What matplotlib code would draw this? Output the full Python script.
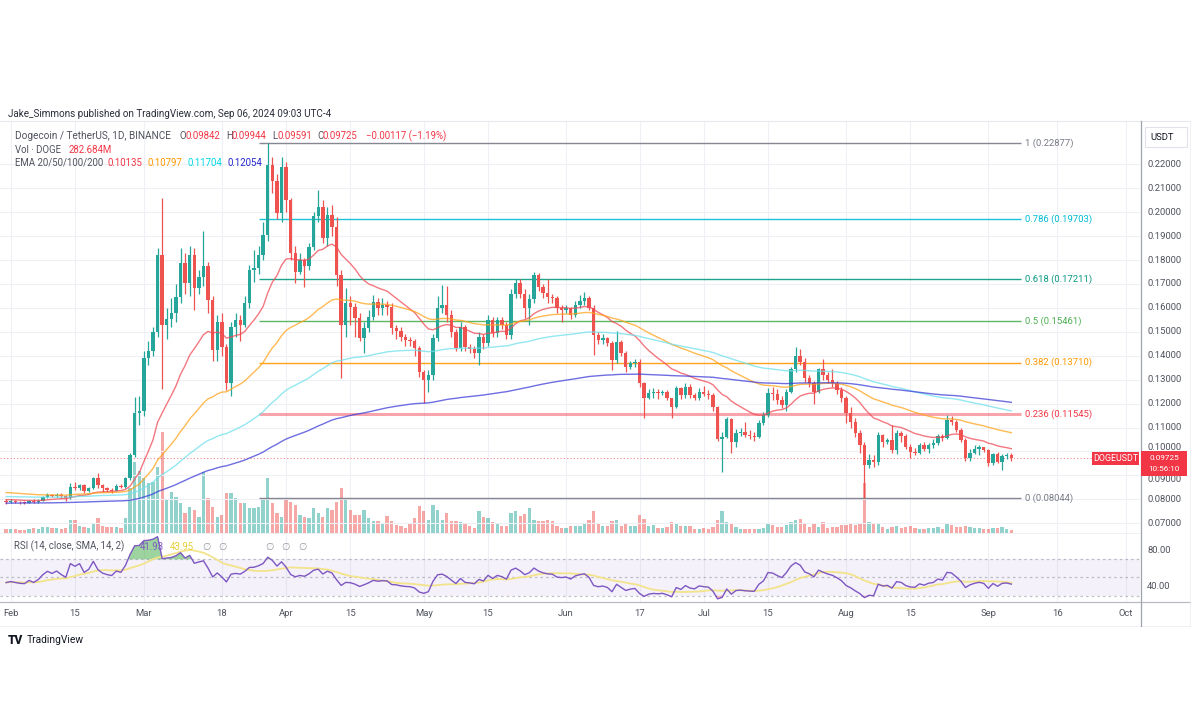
import matplotlib
matplotlib.use("Agg")
import matplotlib.pyplot as plt
from matplotlib.patches import Rectangle
from matplotlib.lines import Line2D
from matplotlib.transforms import blended_transform_factory as blend, offset_copy
import numpy as np
import pandas as pd

plt.rcParams['font.family'] = ['Roboto', 'DejaVu Sans']

# ---------------- data (daily DOGE/USDT) ----------------
start_date = "2024-01-31"
first_open = 0.0795

close_jan = [0.0790]
high_jan = [0.0800]
low_jan = [0.0782]
vol_jan = [0.4]

close_feb = [0.0793, 0.0790, 0.0787, 0.0786, 0.0794, 0.0788, 0.0795, 0.0808, 0.0818, 0.0813,
             0.0820, 0.0812, 0.0805, 0.0853, 0.0846, 0.0858, 0.0833, 0.0846, 0.0889, 0.0860,
             0.0846, 0.0840, 0.0836, 0.0857, 0.0852, 0.0889, 0.0985, 0.1160, 0.1170]
high_feb = [0.0800, 0.0798, 0.0795, 0.0793, 0.0799, 0.0800, 0.0800, 0.0815, 0.0828, 0.0822,
            0.0826, 0.0825, 0.0818, 0.0870, 0.0874, 0.0866, 0.0862, 0.0852, 0.0895, 0.0908,
            0.0866, 0.0852, 0.0846, 0.0862, 0.0864, 0.0895, 0.0995, 0.1227, 0.1230]
low_feb = [0.0785, 0.0784, 0.0782, 0.0780, 0.0783, 0.0784, 0.0785, 0.0792, 0.0805, 0.0808,
           0.0810, 0.0805, 0.0795, 0.0803, 0.0838, 0.0838, 0.0825, 0.0830, 0.0842, 0.0848,
           0.0830, 0.0832, 0.0828, 0.0833, 0.0846, 0.0848, 0.0882, 0.0975, 0.1110]
vol_feb = [0.4, 0.4, 0.3, 0.3, 0.4, 0.5, 0.4, 0.6, 0.6, 0.5,
           0.5, 0.4, 0.5, 1.3, 1.3, 0.7, 0.6, 0.5, 1.0, 1.5,
           0.7, 0.6, 0.6, 0.6, 0.5, 1.5, 4.5, 7.1, 6.2]

close_mar = [0.1390, 0.1420, 0.1500, 0.1820, 0.1530, 0.1555, 0.1578, 0.1647, 0.1787, 0.1703,
             0.1821, 0.1682, 0.1730, 0.1773, 0.1633, 0.1424, 0.1543, 0.1438, 0.1285, 0.1522,
             0.1550, 0.1529, 0.1619, 0.1759, 0.1766, 0.1821, 0.1905, 0.2198, 0.2130, 0.1996,
             0.2190]
high_mar = [0.1420, 0.1460, 0.1520, 0.1850, 0.2060, 0.1600, 0.1640, 0.1700, 0.1850, 0.1830,
            0.1860, 0.1850, 0.1760, 0.1920, 0.1790, 0.1650, 0.1570, 0.1580, 0.1450, 0.1540,
            0.1580, 0.1570, 0.1650, 0.1780, 0.1840, 0.1860, 0.1960, 0.2288, 0.2230, 0.2160,
            0.2230]
low_mar = [0.1150, 0.1360, 0.1400, 0.1480, 0.1260, 0.1470, 0.1520, 0.1540, 0.1620, 0.1660,
           0.1650, 0.1590, 0.1660, 0.1690, 0.1580, 0.1380, 0.1380, 0.1400, 0.1257, 0.1230,
           0.1480, 0.1460, 0.1520, 0.1600, 0.1710, 0.1740, 0.1800, 0.1880, 0.2080, 0.1970,
           0.1960]
vol_mar = [5.5, 5.0, 5.1, 6.6, 10.1, 3.3, 4.1, 3.6, 3.0, 2.0,
           2.6, 2.3, 1.6, 6.1, 3.5, 2.6, 1.6, 1.8, 4.0, 4.0,
           3.5, 3.0, 3.0, 2.5, 2.5, 2.6, 3.5, 5.5, 3.0, 2.0,
           1.6]

close_apr = [0.2051, 0.1828, 0.1752, 0.1800, 0.1773, 0.1856, 0.1982, 0.2023, 0.1891, 0.1989,
             0.1940, 0.1738, 0.1529, 0.1619, 0.1605, 0.1556, 0.1473, 0.1515, 0.1563, 0.1623,
             0.1598, 0.1612, 0.1605, 0.1514, 0.1505, 0.1480, 0.1466, 0.1460, 0.1431, 0.1334]
high_apr = [0.2210, 0.2060, 0.1860, 0.1830, 0.1810, 0.1870, 0.2000, 0.2093, 0.2050, 0.2020,
            0.2030, 0.1980, 0.1760, 0.1682, 0.1650, 0.1620, 0.1580, 0.1540, 0.1590, 0.1654,
            0.1640, 0.1640, 0.1630, 0.1620, 0.1530, 0.1520, 0.1490, 0.1480, 0.1470, 0.1440]
low_apr = [0.2000, 0.1800, 0.1703, 0.1740, 0.1689, 0.1760, 0.1840, 0.1960, 0.1870, 0.1860,
           0.1900, 0.1690, 0.1306, 0.1480, 0.1530, 0.1480, 0.1460, 0.1410, 0.1500, 0.1550,
           0.1570, 0.1570, 0.1570, 0.1490, 0.1470, 0.1460, 0.1440, 0.1440, 0.1400, 0.1310]
vol_apr = [3.3, 3.1, 2.8, 1.8, 1.6, 1.5, 2.5, 2.0, 1.6, 2.5,
           2.3, 3.1, 4.5, 3.5, 2.3, 1.8, 1.8, 2.3, 1.5, 1.2,
           1.2, 1.0, 1.7, 1.2, 0.8, 0.7, 0.5, 1.0, 1.5, 2.7]

close_may = [0.1299, 0.1320, 0.1473, 0.1598, 0.1612, 0.1570, 0.1501, 0.1431, 0.1521, 0.1438,
             0.1428, 0.1410, 0.1480, 0.1452, 0.1549, 0.1494, 0.1549, 0.1528, 0.1487, 0.1657,
             0.1703, 0.1660, 0.1598, 0.1637, 0.1737, 0.1689, 0.1661, 0.1645, 0.1640, 0.1598,
             0.1590]
high_may = [0.1340, 0.1340, 0.1490, 0.1650, 0.1696, 0.1690, 0.1590, 0.1510, 0.1540, 0.1530,
            0.1450, 0.1440, 0.1500, 0.1490, 0.1570, 0.1560, 0.1560, 0.1560, 0.1540, 0.1680,
            0.1720, 0.1720, 0.1680, 0.1660, 0.1750, 0.1747, 0.1700, 0.1720, 0.1660, 0.1650,
            0.1610]
low_may = [0.1201, 0.1250, 0.1300, 0.1460, 0.1580, 0.1540, 0.1480, 0.1420, 0.1420, 0.1420,
           0.1410, 0.1390, 0.1361, 0.1430, 0.1440, 0.1480, 0.1480, 0.1510, 0.1470, 0.1470,
           0.1640, 0.1640, 0.1556, 0.1530, 0.1620, 0.1670, 0.1640, 0.1620, 0.1620, 0.1580,
           0.1543]
vol_may = [2.2, 1.3, 2.8, 2.3, 1.3, 2.0, 1.2, 1.2, 1.1, 1.0,
           0.7, 0.5, 2.2, 1.6, 1.5, 1.1, 1.0, 0.7, 0.7, 2.0,
           2.2, 1.7, 1.9, 2.5, 1.3, 1.2, 1.2, 1.3, 1.2, 0.7,
           0.5]

close_jun = [0.1598, 0.1570, 0.1612, 0.1629, 0.1640, 0.1598, 0.1487, 0.1466, 0.1473, 0.1452,
             0.1382, 0.1459, 0.1410, 0.1354, 0.1368, 0.1375, 0.1285, 0.1222, 0.1243, 0.1250,
             0.1243, 0.1247, 0.1222, 0.1187, 0.1264, 0.1235, 0.1270, 0.1236, 0.1225, 0.1250]
high_jun = [0.1610, 0.1605, 0.1630, 0.1654, 0.1665, 0.1650, 0.1610, 0.1500, 0.1490, 0.1480,
            0.1460, 0.1503, 0.1465, 0.1420, 0.1380, 0.1385, 0.1385, 0.1290, 0.1260, 0.1265,
            0.1260, 0.1255, 0.1255, 0.1225, 0.1275, 0.1270, 0.1285, 0.1280, 0.1245, 0.1265]
low_jun = [0.1580, 0.1555, 0.1560, 0.1600, 0.1610, 0.1590, 0.1403, 0.1450, 0.1450, 0.1440,
           0.1341, 0.1370, 0.1400, 0.1333, 0.1345, 0.1355, 0.1270, 0.1139, 0.1220, 0.1225,
           0.1220, 0.1235, 0.1215, 0.1139, 0.1180, 0.1220, 0.1225, 0.1225, 0.1215, 0.1215]
vol_jun = [0.5, 0.7, 0.7, 0.7, 1.0, 1.3, 2.2, 1.0, 0.7, 0.7,
           1.2, 1.3, 0.7, 1.0, 0.7, 0.7, 1.8, 1.4, 0.7, 0.8,
           0.5, 0.5, 0.6, 1.1, 1.0, 0.7, 0.7, 0.7, 0.4, 0.4]

close_jul = [0.1240, 0.1235, 0.1184, 0.1051, 0.1062, 0.1134, 0.1041, 0.1076, 0.1080, 0.1070,
             0.1065, 0.1062, 0.1120, 0.1152, 0.1246, 0.1240, 0.1215, 0.1194, 0.1250, 0.1343,
             0.1399, 0.1375, 0.1306, 0.1285, 0.1250, 0.1343, 0.1319, 0.1299, 0.1285, 0.1257,
             0.1222]
high_jul = [0.1275, 0.1255, 0.1245, 0.1190, 0.1080, 0.1145, 0.1140, 0.1095, 0.1100, 0.1125,
            0.1090, 0.1080, 0.1130, 0.1165, 0.1265, 0.1270, 0.1260, 0.1230, 0.1260, 0.1355,
            0.1435, 0.1430, 0.1390, 0.1320, 0.1295, 0.1350, 0.1385, 0.1330, 0.1343, 0.1295,
            0.1270]
low_jul = [0.1230, 0.1220, 0.1170, 0.1045, 0.0916, 0.1055, 0.0995, 0.1020, 0.1065, 0.1060,
           0.1050, 0.1045, 0.1055, 0.1110, 0.1145, 0.1215, 0.1200, 0.1180, 0.1170, 0.1245,
           0.1330, 0.1360, 0.1290, 0.1270, 0.1200, 0.1245, 0.1300, 0.1285, 0.1270, 0.1240,
           0.1205]
vol_jul = [0.5, 0.4, 0.6, 1.3, 2.2, 1.1, 1.0, 0.6, 0.4, 0.4,
           0.4, 0.4, 0.4, 0.5, 0.9, 0.8, 0.6, 0.6, 0.8, 1.1,
           1.3, 1.4, 1.0, 0.6, 1.0, 0.6, 1.1, 0.5, 0.6, 0.6,
           0.8]

close_aug = [0.1159, 0.1125, 0.1076, 0.1027, 0.0943, 0.0964, 0.0955, 0.1069, 0.1041, 0.1048,
             0.1006, 0.1076, 0.1065, 0.1020, 0.0999, 0.0995, 0.1027, 0.1010, 0.1028, 0.1034,
             0.1065, 0.1055, 0.1131, 0.1125, 0.1090, 0.1048, 0.0971, 0.0995, 0.1009, 0.1017,
             0.1006]
high_aug = [0.1230, 0.1185, 0.1140, 0.1090, 0.1040, 0.0990, 0.0985, 0.1080, 0.1075, 0.1055,
            0.1111, 0.1090, 0.1085, 0.1075, 0.1030, 0.1015, 0.1035, 0.1040, 0.1035, 0.1050,
            0.1075, 0.1075, 0.1152, 0.1150, 0.1130, 0.1100, 0.1055, 0.1010, 0.1025, 0.1025,
            0.1020]
low_aug = [0.1120, 0.1100, 0.1060, 0.0992, 0.08044, 0.0930, 0.0936, 0.0945, 0.1020, 0.1030,
           0.0995, 0.0990, 0.1040, 0.1010, 0.0971, 0.0985, 0.0990, 0.1000, 0.0995, 0.1015,
           0.1025, 0.1045, 0.1050, 0.1110, 0.1080, 0.1040, 0.0960, 0.0960, 0.0990, 0.0985,
           0.0998]
vol_aug = [0.8, 0.9, 0.8, 0.9, 5.0, 1.1, 1.0, 1.0, 0.6, 0.4,
           0.6, 0.7, 0.5, 0.6, 0.7, 0.5, 0.4, 0.4, 0.5, 0.5,
           0.6, 0.4, 1.0, 0.8, 0.6, 0.6, 0.7, 0.6, 0.5, 0.5,
           0.4]

close_sep = [0.0950, 0.0989, 0.0957, 0.0981, 0.09842, 0.09725]
high_sep = [0.1010, 0.0995, 0.0998, 0.0990, 0.0995, 0.09944]
low_sep = [0.0940, 0.0945, 0.0950, 0.0922, 0.0970, 0.09591]
vol_sep = [0.4, 0.5, 0.5, 0.6, 0.4, 0.282684]   # billions of DOGE

# indicator starting values (read at the left edge of the chart)
ema_periods = [20, 50, 100, 200]
ema_start = [0.0800, 0.0830, 0.0812, 0.0784]
ema_colors = ['#f04a55', '#ffa31a', '#6fe0ec', '#3d3dd8']
ema_last_text = ['0.10135', '0.10797', '0.11704', '0.12054']
rsi_start_gain, rsi_start_loss = 0.00055, 0.00065
rsi_last_text = ['41.93', '43.95']

# Fibonacci retracement
fib_labels = ['1', '0.786', '0.618', '0.5', '0.382', '0.236', '0']
fib_prices = [0.22877, 0.19703, 0.17211, 0.15461, 0.13710, 0.11545, 0.08044]
fib_colors = ['#787b86', '#00bcd4', '#089981', '#4caf50', '#ff9800', '#f23645', '#787b86']
fib_start, fib_end = '2024-03-26', '2024-09-08'

price_ticks = [0.07, 0.08, 0.09, 0.10, 0.11, 0.12, 0.13, 0.14, 0.15, 0.16, 0.17, 0.18, 0.19, 0.20, 0.21, 0.22]
tick_dates = ['2024-02-01', '2024-02-15', '2024-03-01', '2024-03-18', '2024-04-01', '2024-04-15',
              '2024-05-01', '2024-05-15', '2024-06-01', '2024-06-17', '2024-07-01', '2024-07-15',
              '2024-08-01', '2024-08-15', '2024-09-01', '2024-09-16', '2024-10-01']
tick_labels = ['Feb', '15', 'Mar', '18', 'Apr', '15', 'May', '15', 'Jun', '17', 'Jul', '15',
               'Aug', '15', 'Sep', '16', 'Oct']
last_price = 0.09725
countdown_text = '10:56:10'

# ---------------- assemble ----------------
close = close_jan + close_feb + close_mar + close_apr + close_may + close_jun + close_jul + close_aug + close_sep
high = high_jan + high_feb + high_mar + high_apr + high_may + high_jun + high_jul + high_aug + high_sep
low = low_jan + low_feb + low_mar + low_apr + low_may + low_jun + low_jul + low_aug + low_sep
vol = vol_jan + vol_feb + vol_mar + vol_apr + vol_may + vol_jun + vol_jul + vol_aug + vol_sep
assert len(close) == len(high) == len(low) == len(vol)

ref = pd.Timestamp('2024-02-01')
dates = pd.date_range(start_date, periods=len(close), freq='D')
t = np.array((dates - ref).days, dtype=float)
c = np.array(close)
o = np.array([first_open] + close[:-1])
hi = np.maximum(np.array(high), np.maximum(o, c))
lo = np.minimum(np.array(low), np.minimum(o, c))
v = np.array(vol)


def ema(vals, n, seed):
    a = 2.0 / (n + 1)
    out, e = [], seed
    for x in vals:
        e = a * x + (1 - a) * e
        out.append(e)
    return np.array(out)


def rsi_wilder(vals, prev, g0, l0, n=14):
    ag, al, p, out = g0, l0, prev, []
    for x in vals:
        ch = x - p
        ag = (ag * (n - 1) + max(ch, 0)) / n
        al = (al * (n - 1) + max(-ch, 0)) / n
        out.append(100 - 100 / (1 + ag / al) if al > 0 else 100.0)
        p = x
    return np.array(out)


rsi = rsi_wilder(close, first_open, rsi_start_gain, rsi_start_loss)
rsi_sma = pd.Series(rsi).rolling(14, min_periods=1).mean().values

# ---------------- layout (pixel geometry of the screenshot) ----------------
W, H = 1200, 728
X_T0, DX = 10.7, 4.59          # pixel of 1 Feb candle, pixels per day
PANE_R = 1140
MAIN_TOP, MAIN_BOT, RSI_BOT = 121, 533, 601.7
Y22, PPU = 164.3, 2393.0       # pixel of 0.22, pixels per price unit


def price_at(y):
    return 0.22 - (y - Y22) / PPU


t_left = (0 - X_T0) / DX
t_right = (PANE_R - X_T0) / DX

fig = plt.figure(figsize=(W / 100, H / 100), dpi=100)
fig.patch.set_facecolor('white')


def frect(y0, y1):
    return [0, 1 - y1 / H, PANE_R / W, (y1 - y0) / H]


ax_vol = fig.add_axes(frect(MAIN_TOP, MAIN_BOT))
ax = fig.add_axes(frect(MAIN_TOP, MAIN_BOT), sharex=ax_vol)
ax_rsi = fig.add_axes(frect(MAIN_BOT, RSI_BOT), sharex=ax_vol)
ax.patch.set_alpha(0)
for a in (ax_vol, ax, ax_rsi):
    for s in a.spines.values():
        s.set_visible(False)
    a.set_xticks([])
    a.set_yticks([])
ax_vol.set_xlim(t_left, t_right)
ax.set_ylim(price_at(MAIN_BOT), price_at(MAIN_TOP))
vmax = max(vol)
ax_vol.set_ylim(0, vmax * (MAIN_BOT - MAIN_TOP) / 101.0)
ax_rsi.set_ylim(23.4, 98.9)

GRID = '#eef0f5'
tick_t = [(pd.Timestamp(d) - ref).days for d in tick_dates]
for tt in tick_t:
    ax_vol.axvline(tt, color=GRID, lw=0.8, zorder=0)
    ax_rsi.axvline(tt, color=GRID, lw=0.8, zorder=0)
for p in price_ticks:
    ax.axhline(p, color=GRID, lw=0.8, zorder=0)

# volume
up_v = c >= o
vcol = np.where(up_v, '#26a69a', '#ef5350')
ax_vol.bar(t, v, width=0.72, color=vcol, alpha=0.5, linewidth=0, zorder=1)

# fibonacci
fs_t = (pd.Timestamp(fib_start) - ref).days
fe_t = (pd.Timestamp(fib_end) - ref).days
for lab, p, col in zip(fib_labels, fib_prices, fib_colors):
    thick = lab == '0.236'
    ax.hlines(p, fs_t, fe_t, color=col, lw=2.2 if thick else 1.0, alpha=0.45 if thick else 0.9, zorder=1)
    ax.text(fe_t + 1.0, p, f"{lab} ({p:.5f})", color=col, fontsize=6.8, va='center', ha='left', zorder=6)

# last price dotted line
ax.axhline(last_price, color='#f23645', lw=0.8, ls=(0, (1, 2)), alpha=0.6, zorder=1)

# candles
up = c >= o
ccol = np.where(up, '#26a69a', '#ef5350')
ax.vlines(t, lo, hi, colors=ccol, lw=0.9, zorder=3)
body_b = np.minimum(o, c)
body_h = np.maximum(np.abs(c - o), 0.00025)
ax.bar(t, body_h, bottom=body_b, width=0.74, color=ccol, linewidth=0, zorder=4)

# EMAs
for n, s0, col in zip(ema_periods, ema_start, ema_colors):
    ax.plot(t, ema(close, n, s0), color=col, lw=1.0, alpha=0.75, zorder=5)

# RSI pane
ax_rsi.axhspan(30, 70, color='#7e57c2', alpha=0.08, lw=0, zorder=0)
for lvl in (70, 50, 30):
    ax_rsi.axhline(lvl, color='#9598a1', lw=0.9, ls=(0, (2, 2.5)), alpha=0.6, zorder=1)
ax_rsi.fill_between(t, rsi, 70, where=rsi > 70, interpolate=True, color='#4caf50', alpha=0.55, lw=0, zorder=2)
ax_rsi.fill_between(t, rsi, 30, where=rsi < 30, interpolate=True, color='#f23645', alpha=0.3, lw=0, zorder=2)
ax_rsi.plot(t, rsi_sma, color='#f3e38a', lw=1.3, zorder=3)
ax_rsi.plot(t, rsi, color='#7e57c2', lw=1.0, zorder=4)


# ---------------- frame lines ----------------
def fline(x0, y0, x1, y1, **kw):
    fig.add_artist(Line2D([x0 / W, x1 / W], [1 - y0 / H, 1 - y1 / H], transform=fig.transFigure, **kw))


def frect_patch(x0, y0, x1, y1, **kw):
    fig.add_artist(Rectangle((x0 / W, 1 - y1 / H), (x1 - x0) / W, (y1 - y0) / H,
                             transform=fig.transFigure, **kw))


fline(0, MAIN_TOP, 1190, MAIN_TOP, color='#e6e8ee', lw=0.8)
fline(0, MAIN_BOT, PANE_R, MAIN_BOT, color='#eceef3', lw=0.6)
fline(0, RSI_BOT, 1190, RSI_BOT, color='#b8bbc4', lw=0.9)
fline(0, 626, 1190, 626, color='#eceef3', lw=0.6)
fline(1141, MAIN_TOP, 1141, 626, color='#9fa3ab', lw=0.9)
fline(1190, MAIN_TOP, 1190, 626, color='#eceef3', lw=0.6)

AXTXT = '#50535e'
tf_price = blend(fig.transFigure, ax.transData)
for p in price_ticks:
    # the two labels partly hidden behind the last-price tag are nudged apart from it
    dy = 0
    if abs(p - 0.10) < 1e-9:
        dy = 4
    elif abs(p - 0.09) < 1e-9:
        dy = -4
    tf = offset_copy(tf_price, fig=fig, x=0, y=dy, units='dots')
    ax.text(1147 / W, p, f"{p:.5f}", transform=tf, fontsize=6.8, color=AXTXT, va='center', ha='left')
tf_rsi = blend(fig.transFigure, ax_rsi.transData)
for r in (80, 40):
    ax_rsi.text(1147 / W, r, f"{r:.2f}", transform=tf_rsi, fontsize=6.8, color=AXTXT, va='center', ha='left')

tf_date = blend(ax_rsi.transData, fig.transFigure)
for tt, lab in zip(tick_t, tick_labels):
    ax_rsi.text(tt, 1 - 614 / H, lab, transform=tf_date, fontsize=6.8, color=AXTXT, ha='center', va='center')

# USDT box
frect_patch(1145, 127, 1187, 147, facecolor='white', edgecolor='#e0e3eb', lw=0.8)
fig.text(1162 / W, 1 - 137 / H, 'USDT', fontsize=6.8, color='#131722', ha='center', va='center')

# last price labels
RED = '#f23645'
frect_patch(1092, 452, 1139, 465, facecolor=RED, edgecolor='none')
fig.text(1115.5 / W, 1 - 458.5 / H, 'DOGEUSDT', fontsize=6.4, color='white', ha='center', va='center')
frect_patch(1141, 451, 1187, 476, facecolor=RED, edgecolor='none', zorder=4)
fig.text(1164 / W, 1 - 458.5 / H, f"{last_price:.5f}", fontsize=5.9, color='white', ha='center', va='center', zorder=5)
fig.text(1164 / W, 1 - 469 / H, countdown_text, fontsize=5.9, color='white', ha='center', va='center', zorder=5)


# ---------------- legend / header text ----------------
def ftext(x, y, s, **kw):
    kw.setdefault('fontsize', 6.9)
    kw.setdefault('va', 'center')
    kw.setdefault('ha', 'left')
    fig.text(x / W, 1 - y / H, s, **kw)


GRAY = '#50535e'
ftext(8, 114, 'Jake_Simmons published on TradingView.com, Sep 06, 2024 09:03 UTC-4', color='#2a2e39', fontsize=7.1)
ftext(15, 136, 'Dogecoin / TetherUS, 1D, BINANCE', color=GRAY, fontsize=7.2)
ohlc = [('O', 179, f"{o[-1]:.5f}", 185), ('H', 226.5, f"{high[-1]:.5f}", 232),
        ('L', 272.5, f"{low[-1]:.5f}", 277.5), ('C', 317, f"{close[-1]:.5f}", 322.5)]
for letter, lx, val, vx in ohlc:
    ftext(lx, 136, letter, color=GRAY)
    ftext(vx, 136, val, color=RED)
chg = close[-1] - o[-1]
ftext(366, 136, f"\u2212{abs(chg):.5f} (\u2212{abs(chg) / o[-1] * 100:.2f}%)", color=RED)
ftext(15, 150, 'Vol \u00b7 DOGE', color=GRAY)
ftext(69, 150, f"{vol[-1] * 1000:.3f}M", color=RED)
ftext(15, 163, 'EMA 20/50/100/200', color=GRAY)
for xx, txt, col in zip([107, 147, 188, 227], ema_last_text, ['#f23645', '#ff9800', '#00d8e8', '#2626d0']):
    ftext(xx, 163, txt, color=col)

ftext(14, 546.5, 'RSI (14, close, SMA, 14, 2)', color=GRAY)
ftext(140, 546.5, rsi_last_text[0], color='#7e57c2')
ftext(170, 546.5, rsi_last_text[1], color='#e8cf3a')
for xx in (202, 218, 265, 281, 298):
    ftext(xx, 546.5, '\u2205', color='#9598a1', family=['DejaVu Sans'])

# TradingView mark
ftext(8, 640, 'TV', color='#131722', fontsize=8.5, fontweight='black')
ftext(27, 640, 'TradingView', color='#131722', fontsize=7.4)

fig.savefig('out.png', dpi=100, facecolor='white')
